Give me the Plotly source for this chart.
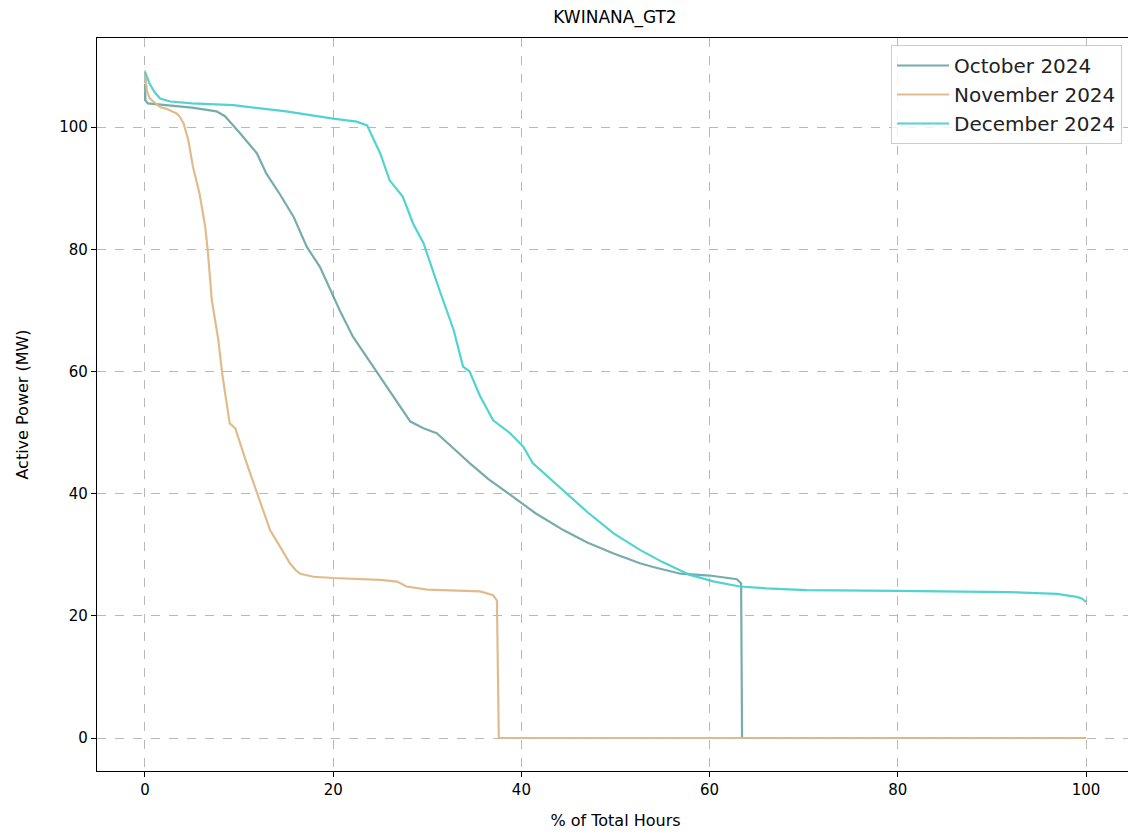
import plotly.graph_objects as go

# October 2024
oct_x = [0, 0.02, 0.05, 0.3, 1.0, 2.3, 5.0, 7.6, 8.5, 10.1, 11.9, 12.9, 14.3, 15.8, 17.2, 18.6, 19.7,
         20.7, 22.1, 25.0, 28.2, 29.6, 31.0, 32.8, 34.5, 36.5, 39.1, 41.5, 44.5, 47.0, 49.8, 52.6,
         54.0, 56.9, 60.0, 62.9, 63.35, 63.43, 63.45, 70, 80, 90, 100]
oct_y = [107.1, 105.5, 104.4, 103.9, 103.8, 103.6, 103.2, 102.6, 101.8, 99.0, 95.7, 92.4, 89.1, 85.3,
         80.4, 77.1, 73.3, 70.0, 65.7, 59.1, 51.8, 50.7, 49.9, 47.4, 45.0, 42.4, 39.5, 36.8, 34.0,
         32.0, 30.2, 28.6, 28.0, 26.9, 26.6, 26.0, 25.3, 10.0, 0.0, 0.0, 0.0, 0.0, 0.0]

# November 2024
nov_x = [0, 0.2, 0.5, 1.6, 2.3, 3.4, 3.7, 4.1, 4.6, 5.1, 5.8, 6.4, 6.7, 7.1, 7.8, 8.2, 9.0, 9.6,
         10.8, 11.9, 13.3, 14.4, 15.4, 16.0, 16.5, 17.9, 20.0, 25.0, 26.8, 27.8, 30.0, 35.6, 37.0,
         37.4, 37.55, 37.6, 45, 60, 80, 100]
nov_y = [109.3, 106.0, 104.7, 103.3, 103.0, 102.2, 101.7, 100.6, 97.9, 93.5, 89.1, 83.7, 79.3, 71.7,
         65.1, 59.7, 51.5, 50.7, 45.0, 40.0, 34.0, 31.2, 28.6, 27.5, 26.9, 26.4, 26.2, 25.9, 25.6,
         24.8, 24.3, 24.0, 23.4, 22.5, 10.0, 0.0, 0.0, 0.0, 0.0, 0.0]

# December 2024
dec_x = [0, 0.5, 1.0, 1.6, 2.7, 5.0, 9.4, 15.0, 20.0, 22.5, 23.6, 25.0, 26.0, 27.4, 28.5, 29.6,
         31.3, 32.8, 33.8, 34.5, 35.6, 37.0, 38.8, 40.2, 41.2, 42.5, 44.8, 47.0, 49.8, 52.6,
         55.0, 57.9, 60.5, 63.2, 66.0, 70.3, 79.9, 91.6, 96.9, 99.0, 99.6, 100]
dec_y = [109.0, 107.1, 105.8, 104.7, 104.2, 103.9, 103.6, 102.6, 101.4, 100.9, 100.3, 95.7, 91.3,
         88.6, 84.2, 81.0, 73.3, 66.8, 60.8, 60.0, 56.0, 52.0, 49.9, 47.7, 45.0, 43.2, 40.0, 37.0,
         33.5, 30.8, 28.8, 26.7, 25.6, 24.8, 24.5, 24.2, 24.1, 23.9, 23.6, 23.1, 22.8, 22.3]

series = [
    ("October 2024", oct_x, oct_y, "rgba(95,158,160,0.85)"),
    ("November 2024", nov_x, nov_y, "rgba(222,184,135,0.95)"),
    ("December 2024", dec_x, dec_y, "rgba(72,209,204,0.95)"),
]

fig = go.Figure()
for name, xs, ys, col in series:
    fig.add_trace(go.Scatter(x=xs, y=ys, mode="lines", name=name,
                             line=dict(color=col, width=2.2)))

font = "DejaVu Sans"
W = 1134
x_hi = (W - 145) / ((1086 - 145) / 100)
fig.update_layout(
    width=W, height=834,
    margin=dict(l=97, r=0, t=38, b=63, autoexpand=False),
    paper_bgcolor="white", plot_bgcolor="white",
    font=dict(family=font, size=15, color="#000000"),
    title=dict(text="KWINANA_GT2", x=615/W, xref="container", xanchor="center",
               y=1 - 17/834, yref="container", yanchor="middle",
               font=dict(size=17, family=font, color="#000000")),
    legend=dict(x=(1122-97)/(W-97), xanchor="right", y=(771-45)/733, yanchor="top",
                bgcolor="rgba(255,255,255,0.8)", bordercolor="#cccccc", borderwidth=1,
                font=dict(size=20, family=font, color="#222222"),
                itemwidth=52),
    showlegend=True,
)
fig.update_xaxes(
    range=[-5.1, x_hi], tickvals=[0, 20, 40, 60, 80, 100],
    showline=True, linecolor="#000000", linewidth=1.2, mirror=True,
    ticks="outside", ticklen=5, tickcolor="#000000", tickwidth=1,
    showgrid=True, gridcolor="#b8b8b8", gridwidth=1, griddash="dash",
    zeroline=False, tickfont=dict(size=15, family=font, color="#000000"),
    title=dict(text="% of Total Hours", font=dict(size=16, family=font), standoff=16),
)
fig.update_yaxes(
    range=[-5.4, 114.6], tickvals=[0, 20, 40, 60, 80, 100],
    showline=True, linecolor="#000000", linewidth=1.2, mirror=False,
    ticks="outside", ticklen=5, tickcolor="#000000", tickwidth=1,
    showgrid=True, gridcolor="#b8b8b8", gridwidth=1, griddash="dash",
    zeroline=False, tickfont=dict(size=15, family=font, color="#000000"),
    title=dict(text="Active Power (MW)", font=dict(size=16, family=font), standoff=26),
)

fig.write_html("out.html", config={"displayModeBar": False, "responsive": False},
               post_script="document.body.style.margin='0';document.body.style.overflow='hidden';")
